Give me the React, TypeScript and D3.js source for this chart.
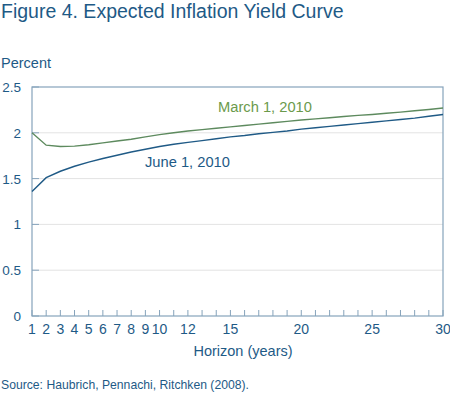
import React, { useEffect, useRef } from "react";
import * as d3 from "d3";

const years = [
  1, 2, 3, 4, 5, 6, 7, 8, 9, 10, 11, 12, 13, 14, 15, 16, 17, 18, 19, 20, 21,
  22, 23, 24, 25, 26, 27, 28, 29, 30,
];
const march2010 = [
  2.0, 1.865, 1.85, 1.855, 1.87, 1.89, 1.91, 1.93, 1.955, 1.98, 2.0, 2.02,
  2.035, 2.05, 2.065, 2.08, 2.095, 2.11, 2.125, 2.14, 2.152, 2.165, 2.178,
  2.19, 2.2, 2.213, 2.226, 2.24, 2.255, 2.27,
];
const june2010 = [
  1.36, 1.51, 1.58, 1.635, 1.68, 1.72, 1.755, 1.79, 1.82, 1.85, 1.875, 1.895,
  1.915, 1.935, 1.955, 1.97, 1.99, 2.005, 2.02, 2.04, 2.055, 2.07, 2.085, 2.1,
  2.115, 2.13, 2.145, 2.16, 2.18, 2.2,
];
const xTickLabels = [1, 2, 3, 4, 5, 6, 7, 8, 9, 10, 12, 15, 20, 25, 30];
const yTicks = [0, 0.5, 1, 1.5, 2, 2.5];

const W = 450;
const H = 396;
const font = "'Liberation Sans', Arial, sans-serif";
const titleBlue = "#1e5a86";
const frameColor = "#86a3bb";

const App: React.FC = () => {
  const svgRef = useRef<SVGSVGElement>(null);

  useEffect(() => {
    if (!svgRef.current) return;
    const svg = d3.select(svgRef.current);
    svg.selectAll("*").remove();

    const x = d3.scaleLinear().domain([1, 30]).range([32, 443]);
    const y = d3.scaleLinear().domain([0, 2.5]).range([316, 87]);

    svg
      .append("text")
      .attr("x", 1)
      .attr("y", 18)
      .attr("font-size", 19.5)
      .attr("fill", titleBlue)
      .text("Figure 4. Expected Inflation Yield Curve");

    svg
      .append("text")
      .attr("x", 1)
      .attr("y", 68)
      .attr("font-size", 14.5)
      .attr("fill", titleBlue)
      .text("Percent");

    // gridlines
    svg
      .append("g")
      .selectAll("line")
      .data(yTicks.filter((d) => d > 0 && d < 2.5))
      .join("line")
      .attr("x1", x(1))
      .attr("x2", x(30))
      .attr("y1", (d) => y(d))
      .attr("y2", (d) => y(d))
      .attr("stroke", "#e3e3e3")
      .attr("stroke-width", 1);

    // y ticks (inside)
    svg
      .append("g")
      .selectAll("line")
      .data(yTicks)
      .join("line")
      .attr("x1", x(1))
      .attr("x2", x(1) + 7)
      .attr("y1", (d) => y(d))
      .attr("y2", (d) => y(d))
      .attr("stroke", frameColor);

    svg
      .append("g")
      .selectAll("text")
      .data(yTicks)
      .join("text")
      .attr("x", 21)
      .attr("y", (d) => y(d) + 5)
      .attr("text-anchor", "end")
      .attr("font-size", 13.5)
      .attr("fill", titleBlue)
      .text((d) => String(d));

    // x ticks (inside, pointing up)
    svg
      .append("g")
      .selectAll("line")
      .data(years)
      .join("line")
      .attr("x1", (d) => x(d))
      .attr("x2", (d) => x(d))
      .attr("y1", y(0))
      .attr("y2", y(0) - 6)
      .attr("stroke", frameColor);

    svg
      .append("g")
      .selectAll("text")
      .data(xTickLabels)
      .join("text")
      .attr("x", (d) => x(d))
      .attr("y", 333.5)
      .attr("text-anchor", "middle")
      .attr("font-size", 14)
      .attr("fill", titleBlue)
      .text((d) => String(d));

    // frame
    svg
      .append("rect")
      .attr("x", x(1))
      .attr("y", y(2.5))
      .attr("width", x(30) - x(1))
      .attr("height", y(0) - y(2.5))
      .attr("fill", "none")
      .attr("stroke", frameColor)
      .attr("stroke-width", 1.2);

    const line = d3
      .line<number>()
      .x((_, i) => x(years[i]))
      .y((d) => y(d));

    svg
      .append("path")
      .datum(march2010)
      .attr("fill", "none")
      .attr("stroke", "#5d8a5e")
      .attr("stroke-width", 1.4)
      .attr("d", line);

    svg
      .append("path")
      .datum(june2010)
      .attr("fill", "none")
      .attr("stroke", "#1f5a86")
      .attr("stroke-width", 1.4)
      .attr("d", line);

    svg
      .append("text")
      .attr("x", 218)
      .attr("y", 112)
      .attr("font-size", 14.7)
      .attr("fill", "#6b9a4c")
      .text("March 1, 2010");

    svg
      .append("text")
      .attr("x", 145)
      .attr("y", 167)
      .attr("font-size", 14.7)
      .attr("fill", titleBlue)
      .text("June 1, 2010");

    svg
      .append("text")
      .attr("x", 243)
      .attr("y", 356)
      .attr("text-anchor", "middle")
      .attr("font-size", 14.5)
      .attr("fill", titleBlue)
      .text("Horizon (years)");

    svg
      .append("text")
      .attr("x", 1)
      .attr("y", 389)
      .attr("font-size", 12.2)
      .attr("fill", titleBlue)
      .text("Source: Haubrich, Pennachi, Ritchken (2008).");
  }, []);

  return (
    <svg
      ref={svgRef}
      width={W}
      height={H}
      style={{ position: "absolute", left: 0, top: 0, fontFamily: font, background: "#fff" }}
    />
  );
};

export default App;
